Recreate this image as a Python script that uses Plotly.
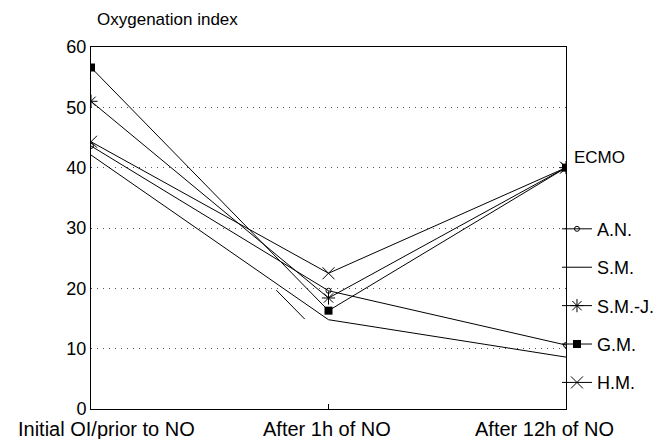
import plotly.graph_objects as go

categories = ["Initial OI/prior to NO", "After 1h of NO", "After 12h of NO"]
x_pos = [0, 1, 2]
series_names = ["A.N.", "S.M.", "S.M.-J.", "G.M.", "H.M."]
an_values = [43.6, 19.6, 10.6]
sm_values = [42.1, 14.8, 8.6]
smj_values = [51.0, 18.4, 40.0]
gm_values = [56.6, 16.3, 40.0]
hm_values = [44.3, 22.5, 40.0]
stray_x = [0.78, 0.90]
stray_y = [19.7, 14.9]
y_ticks = [0, 10, 20, 30, 40, 50, 60]

# layout-only constants (label placement along the x axis)
label_x = [0.067, 0.994, 1.91]

font = "Liberation Sans, Arial, sans-serif"
markers = [
    dict(symbol="circle-open", size=5, line=dict(width=1, color="black")),
    None,
    dict(symbol="asterisk-open", size=11, line=dict(width=1, color="black")),
    dict(symbol="square", size=8, color="black"),
    dict(symbol="x-thin-open", size=12, line=dict(width=1, color="black")),
]
values = [an_values, sm_values, smj_values, gm_values, hm_values]

fig = go.Figure()
for name, vals, mk in zip(series_names, values, markers):
    kw = dict(mode="lines+markers", marker=mk) if mk else dict(mode="lines")
    fig.add_trace(go.Scatter(x=x_pos, y=vals, name=name, legendgroup=name,
                             line=dict(color="black", width=1), **kw))

fig.add_trace(go.Scatter(x=stray_x, y=stray_y, mode="lines", showlegend=False,
                         line=dict(color="black", width=1), hoverinfo="skip"))

annotations = [
    dict(text="Oxygenation index", xref="paper", yref="paper", x=0.008, y=1.075,
         xanchor="left", yanchor="middle", showarrow=False, font=dict(size=17)),
    dict(text="ECMO", xref="paper", yref="y", x=1.013, y=40, xanchor="left",
         yanchor="middle", yshift=10, showarrow=False, font=dict(size=17)),
]
for lx, txt in zip(label_x, categories):
    annotations.append(dict(text=txt, xref="x", yref="paper", x=lx, y=0,
                            xanchor="center", yanchor="middle", yshift=-20,
                            showarrow=False, font=dict(size=20)))

fig.update_layout(
    width=664, height=439,
    margin=dict(l=83, r=106, t=39, b=38),
    paper_bgcolor="white", plot_bgcolor="white",
    font=dict(family=font, size=18, color="black"),
    showlegend=True,
    legend=dict(x=0.981, y=0.548, xanchor="left", yanchor="top",
                bgcolor="rgba(0,0,0,0)", font=dict(size=18),
                tracegroupgap=12, traceorder="grouped"),
    xaxis=dict(range=[0, 2], tickvals=x_pos, ticktext=["", "", ""],
               showgrid=False, zeroline=False, showline=True, linecolor="black",
               linewidth=1, mirror=True, ticks="inside", ticklen=5,
               tickcolor="black"),
    yaxis=dict(range=[0, 60], tickvals=y_ticks, showgrid=True,
               gridcolor="#555555", griddash="1px,5px", gridwidth=1,
               zeroline=False, showline=True, linecolor="black", linewidth=1,
               mirror=True, ticks="", tickfont=dict(size=18)),
    annotations=annotations,
)

fig.write_html("out.html")
